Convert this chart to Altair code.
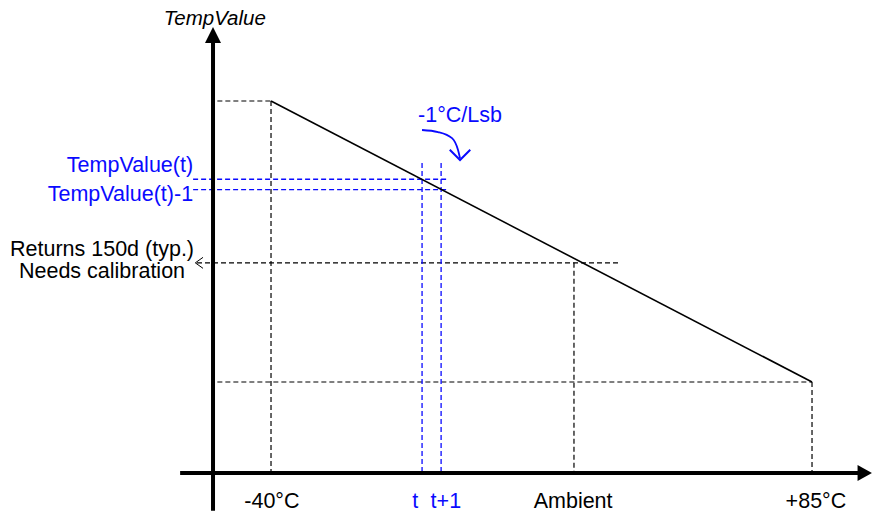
import altair as alt
import pandas as pd

# ---- values (temperature in °C, TempValue in counts) ----
line_temps = [-40, 85]
line_values = [222, 97]
ambient_temp = 30
ambient_value = 150
t_temps = [-5.1, -0.7]          # t, t+1
t_values = [187.2, 182.6]       # TempValue(t), TempValue(t)-1

x_label_text = ["-40°C", "t", "t+1", "Ambient", "+85°C"]
x_label_temp = [-39.8, -6.7, 0.4, 29.8, 85.9]
x_label_color = ["black", "blue", "blue", "black", "black"]

# axis origin (where the drawn axes cross) and extents, in data units
X0, Y0 = -53.4, 56.5
PX_X = 4.328   # pixels per °C
PX_Y = 2.248   # pixels per count
X_DOMAIN = [-100.77, 99.09]
Y_TOP = 263.37
H = 506
Y_DOMAIN = [Y_TOP - H / PX_Y, Y_TOP]

XS = alt.Scale(domain=X_DOMAIN, nice=False, zero=False)
YS = alt.Scale(domain=Y_DOMAIN, nice=False, zero=False)
FONT = "Liberation Sans"
FS = 21.5
BLUE = "#0a0aff"


def xe(f):
    return alt.X(f, type="quantitative", scale=XS, axis=None)


def ye(f):
    return alt.Y(f, type="quantitative", scale=YS, axis=None)


def segs(rows):
    return pd.DataFrame(rows, columns=["x", "y", "x2", "y2"])


# black dashed guides
black_guides = segs([
    [X0 + 1, line_values[0], line_temps[0], line_values[0]],
    [line_temps[0], line_values[0], line_temps[0], Y0],
    [-57.1, ambient_value, 40.6, ambient_value],
    [ambient_temp, ambient_value, ambient_temp, Y0],
    [X0 + 1, line_values[1], line_temps[1], line_values[1]],
    [line_temps[1], line_values[1], line_temps[1], Y0],
])

blue_guides = segs([
    [-58.0, t_values[0], 0.67, t_values[0]],
    [-58.0, t_values[1], 0.67, t_values[1]],
    [t_temps[0], 194.4, t_temps[0], Y0],
    [t_temps[1], 194.4, t_temps[1], Y0],
])

axes_df = segs([
    [-61.0, Y0, 97.0, Y0],
    [X0, 39.7, X0, 251.4],
])


def rule_layer(df, color, width, dash=None):
    kw = dict(color=color, strokeWidth=width)
    if dash:
        kw["strokeDash"] = dash
    return alt.Chart(df).mark_rule(**kw).encode(
        x=xe("x"), y=ye("y"), x2=alt.X2("x2"), y2=alt.Y2("y2"))


black_layer = rule_layer(black_guides, "black", 1.2, [5, 3])
blue_layer = rule_layer(blue_guides, BLUE, 1.3, [5, 3])
axes_layer = rule_layer(axes_df, "black", 4)

main_line = alt.Chart(pd.DataFrame({"x": line_temps, "y": line_values})).mark_line(
    color="black", strokeWidth=1.6).encode(x=xe("x"), y=ye("y"))

# arrow heads of the axes
up_head = alt.Chart(pd.DataFrame({"x": [X0], "y": [251.4]})).mark_point(
    shape="M0,-1L1,1L-1,1Z", size=256, filled=True, color="black", opacity=1
).encode(x=xe("x"), y=ye("y"))
right_head = alt.Chart(pd.DataFrame({"x": [97.0], "y": [Y0]})).mark_point(
    shape="M1,0L-0.8,-1L-0.8,1Z", size=256, filled=True, color="black", opacity=1
).encode(x=xe("x"), y=ye("y"))

# open arrow head pointing at the "Returns 150d" note
left_head = alt.Chart(pd.DataFrame({"x": [-56.6], "y": [ambient_value]})).mark_point(
    shape="M0.7,-1L-0.7,0L0.7,1", size=121, filled=False, color="black",
    strokeWidth=1, opacity=1
).encode(x=xe("x"), y=ye("y"))

# curved -1°C/Lsb arrow
curve_x = [-5.11, -1.41, 1.82, 3.21, 3.67]
curve_y = [209.1, 208.2, 205.5, 200.2, 196.6]
curve = alt.Chart(pd.DataFrame({"x": curve_x, "y": curve_y})).mark_line(
    color=BLUE, strokeWidth=1.8, interpolate="monotone"
).encode(x=xe("x"), y=ye("y"))
curve_head = alt.Chart(pd.DataFrame({"x": [3.67], "y": [198.0]})).mark_point(
    shape="M-1,-0.5L0,0.5L1,-0.5", size=420, filled=False, color=BLUE,
    strokeWidth=2, opacity=1
).encode(x=xe("x"), y=ye("y"))


def text_layer(df, align, color=None, italic=False, size=FS, baseline="middle"):
    kw = dict(font=FONT, fontSize=size, align=align, baseline=baseline)
    if italic:
        kw["fontStyle"] = "italic"
    enc = dict(x=xe("x"), y=ye("y"), text="label:N")
    if color is None:
        enc["color"] = alt.Color("c:N", scale=None)
    else:
        kw["color"] = color
    return alt.Chart(df).mark_text(**kw).encode(**enc)


title_txt = text_layer(pd.DataFrame({"x": [-53.0], "y": [263.0], "label": ["TempValue"]}),
                       "center", "black", italic=True, size=20.5, baseline="top")
blue_left = text_layer(pd.DataFrame({"x": [-58.0, -58.0], "y": [193.1, 180.2],
                                     "label": ["TempValue(t)", "TempValue(t)-1"]}),
                       "right", BLUE)
note_txt = text_layer(pd.DataFrame({"x": [-79.05, -79.05], "y": [155.7, 145.9],
                                    "label": ["Returns 150d (typ.)", "Needs calibration"]}),
                      "center", "black")
lsb_txt = text_layer(pd.DataFrame({"x": [3.67], "y": [215.3], "label": ["-1°C/Lsb"]}),
                     "center", BLUE)
xlab_txt = text_layer(pd.DataFrame({"x": x_label_temp, "y": [43.6] * 5,
                                    "label": x_label_text,
                                    "c": [BLUE if c == "blue" else c for c in x_label_color]}),
                      "center")

chart = alt.layer(
    black_layer, blue_layer, main_line, axes_layer, up_head, right_head,
    left_head, curve, curve_head, title_txt, blue_left, note_txt, lsb_txt, xlab_txt
).properties(
    width=865, height=H, padding=0, autosize="none", background="white"
).configure_view(stroke=None)

chart.save("out.html", embed_options={"renderer": "svg", "actions": False})
